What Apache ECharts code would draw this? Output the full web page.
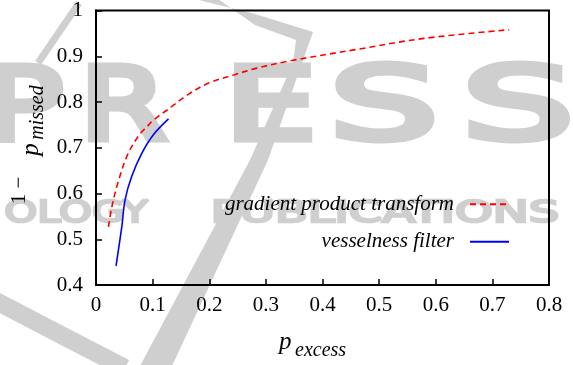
<!DOCTYPE html>
<html><head><meta charset="utf-8">
<script src="https://cdn.jsdelivr.net/npm/echarts@6/dist/echarts.min.js"></script>
<style>html,body{margin:0;padding:0;background:#fff}#c{width:573px;height:365px}</style>
</head><body><div id="c"></div>
<script>
// ---- data ----
const seriesNames = ['gradient product transform', 'vesselness filter'];
const gptX = [0.022, 0.028, 0.040, 0.057, 0.078, 0.090, 0.101, 0.125, 0.161, 0.198, 0.243, 0.284, 0.343, 0.461, 0.579, 0.730];
const gptY = [0.527, 0.571, 0.629, 0.688, 0.731, 0.746, 0.760, 0.782, 0.815, 0.841, 0.859, 0.874, 0.890, 0.915, 0.939, 0.958];
const vesX = [0.0354, 0.0455, 0.0513, 0.063, 0.081, 0.101, 0.128];
const vesY = [0.442, 0.527, 0.586, 0.637, 0.688, 0.728, 0.763];
const xTickLabels = ['0', '0.1', '0.2', '0.3', '0.4', '0.5', '0.6', '0.7', '0.8'];
const yTickLabels = ['0.4', '0.5', '0.6', '0.7', '0.8', '0.9', '1'];

const SERIF = 'Liberation Serif, Times New Roman, serif';
const FS = 21;
const WM = '#cfcfcf';

const axisLineStyle = { color: '#000', width: 2 };
const tickStyle = { show: true, inside: true, length: 6, lineStyle: { color: '#000', width: 1.5 } };

function wmLetter(ch, cx, cy, size, sx, sw) {
  return { type: 'text', z: -10, x: cx, y: cy, scaleX: sx, silent: true,
    style: { text: ch, fontFamily: 'DejaVu Sans', fontSize: size, fill: WM, stroke: WM, lineWidth: sw,
      align: 'center', verticalAlign: 'middle', textAlign: 'center', textVerticalAlign: 'middle' } };
}
function title(txt, cx, cy, size, rot, italic, align) {
  const a = align || 'center';
  return { type: 'text', z: 10, x: cx, y: cy, rotation: rot || 0, silent: true,
    style: { text: txt, fontFamily: SERIF, fontStyle: italic ? 'italic' : 'normal', fontSize: size, fill: '#000',
      align: a, verticalAlign: 'middle', textAlign: a, textVerticalAlign: 'middle' } };
}

const chart = echarts.init(document.getElementById('c'), null, { renderer: 'canvas' });
chart.setOption({
  animation: false,
  backgroundColor: '#fff',
  grid: { left: 96, right: 24, top: 10.5, bottom: 80, show: true, borderColor: '#000', borderWidth: 2, backgroundColor: 'transparent' },
  xAxis: { type: 'value', min: 0, max: 0.8, interval: 0.1, position: 'bottom',
    axisLine: { show: true, onZero: false, lineStyle: axisLineStyle }, axisTick: tickStyle,
    axisLabel: { margin: 10, fontFamily: SERIF, fontSize: FS, color: '#000', formatter: v => xTickLabels[Math.round(v / 0.1)] },
    splitLine: { show: false } },
  yAxis: { type: 'value', min: 0.4, max: 1, interval: 0.1, position: 'left',
    axisLine: { show: true, onZero: false, lineStyle: axisLineStyle }, axisTick: tickStyle,
    axisLabel: { margin: 13, fontFamily: SERIF, fontSize: FS, color: '#000', formatter: v => yTickLabels[Math.round((v - 0.4) / 0.1)] },
    splitLine: { show: false } },
  legend: {
    orient: 'vertical', right: 58, top: 187.3, align: 'right', itemWidth: 39, itemHeight: 14, itemGap: 13.4,
    selectedMode: false, itemStyle: { opacity: 0 },
    textStyle: { fontFamily: SERIF, fontStyle: 'italic', fontSize: FS, color: '#000', lineHeight: 24, padding: [0, 11, 0, 0] },
    data: seriesNames
  },
  series: [
    { name: seriesNames[0], type: 'line', symbol: 'none', smooth: 0.35, z: 3,
      lineStyle: { color: '#ff0000', width: 1.6, type: [6, 4] }, itemStyle: { color: '#ff0000' },
      data: gptX.map((x, i) => [x, gptY[i]]) },
    { name: seriesNames[1], type: 'line', symbol: 'none', smooth: 0.35, z: 3,
      lineStyle: { color: '#0000ff', width: 1.6 }, itemStyle: { color: '#0000ff' },
      data: vesX.map((x, i) => [x, vesY[i]]) }
  ],
  graphic: [
    // faint publisher watermark in the background
    { type: 'polygon', z: -10, silent: true,
      shape: { points: [[195, -1], [255, 14], [313, 32], [302, 63], [268, 160], [172, 366], [140, 366], [250, 160], [293, 63], [296, 40], [255, 25], [218, -1]] },
      style: { fill: WM } },
    { type: 'polyline', z: -10, silent: true, shape: { points: [[79, 3], [38, 63]] }, style: { stroke: WM, lineWidth: 7 } },
    { type: 'polyline', z: -10, silent: true, shape: { points: [[-10, 298], [65, 337], [125, 368]] }, style: { stroke: WM, lineWidth: 18 } },
    wmLetter('P', 24, 113, 100, 1.3, 7),
    wmLetter('R', 123.5, 113, 100, 1.25, 7),
    wmLetter('E', 270.5, 113, 100, 1.45, 7),
    wmLetter('S', 384, 113, 100, 1.7, 7),
    wmLetter('S', 518, 113, 100, 1.75, 7),
    wmLetter('OLOGY', 76, 214, 31, 1.35, 2.5),
    wmLetter('PUBLICATIONS', 385, 214, 31, 1.55, 2.5),
    // axis titles
    title('p', 279, 342.5, 25, 0, true, 'left'),
    title('excess', 295, 351, 20, 0, true, 'left'),
    title('1 \u2212', 19.7, 190.5, FS, Math.PI / 2, false),
    title('p', 31, 149.5, 25, Math.PI / 2, true),
    title('missed', 38, 112.5, 20, Math.PI / 2, true)
  ]
});
</script>
</body></html>
